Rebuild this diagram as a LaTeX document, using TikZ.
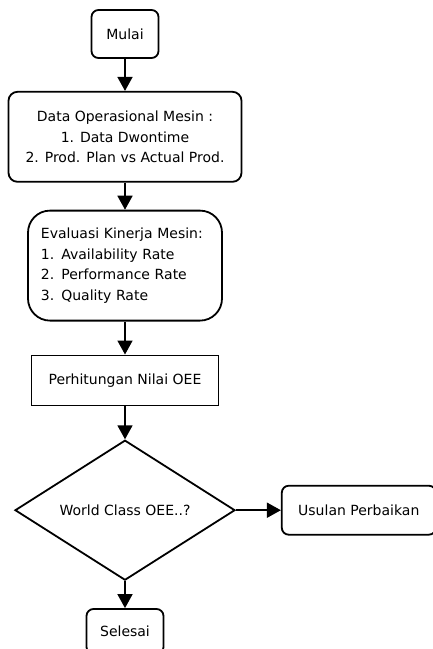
\documentclass[tikz,border=0pt]{standalone}
\usepackage{fontspec}
\setmainfont{DejaVu Sans}
\usetikzlibrary{shapes.geometric, positioning, arrows.meta}
\tikzset{
    x=1pt, y=1pt,
    every node/.style={font=\fontsize{14}{20.5}\selectfont},
    box/.style={draw, line width=1.8pt, inner sep=0pt, align=center}, % every block of the chart
    round/.style={box, rounded corners=7pt}, % start, end and plain rounded blocks
    flow/.style={line width=1.8pt, -{Triangle[length=14pt, width=15pt]}}, % the connectors
}

\begin{document}
\begin{tikzpicture}
            \useasboundingbox (0,0) rectangle (433,-649);
            \node[round, minimum width=67pt, minimum height=48pt] (mulai) at (125,-34) {Mulai};
            \node[round, rounded corners=9pt, minimum width=233pt, minimum height=90pt, below=32pt of mulai] (data)
                {Data Operasional Mesin :\\ 1. Data Dwontime\\ 2. Prod. Plan vs Actual Prod.};
            \node[box, rounded corners=22pt, minimum width=194pt, minimum height=110pt, text width=168pt, align=left, below=27pt of data] (eval)
                {Evaluasi Kinerja Mesin:\\ 1. Availability Rate\\ 2. Performance Rate\\ 3. Quality Rate};
            \node[box, minimum width=187pt, minimum height=50pt, below=33pt of eval] (hitung) {Perhitungan Nilai OEE};
            \node[box, diamond, aspect=1.57, minimum width=220pt, minimum height=140pt, below=33pt of hitung] (cek) {World Class OEE..?};
            \node[round, minimum width=154pt, minimum height=49pt, right=45pt of cek] (usulan) {Usulan Perbaikan};
            \node[round, minimum width=77pt, minimum height=45pt, below=27pt of cek] (selesai) {Selesai};
            \draw[flow] (mulai) edge (data)
            (data) edge (eval)
            (eval) edge (hitung)
            (hitung) edge (cek)
            (cek) edge (usulan)
            (cek) edge (selesai);
        \end{tikzpicture}
\end{document}
